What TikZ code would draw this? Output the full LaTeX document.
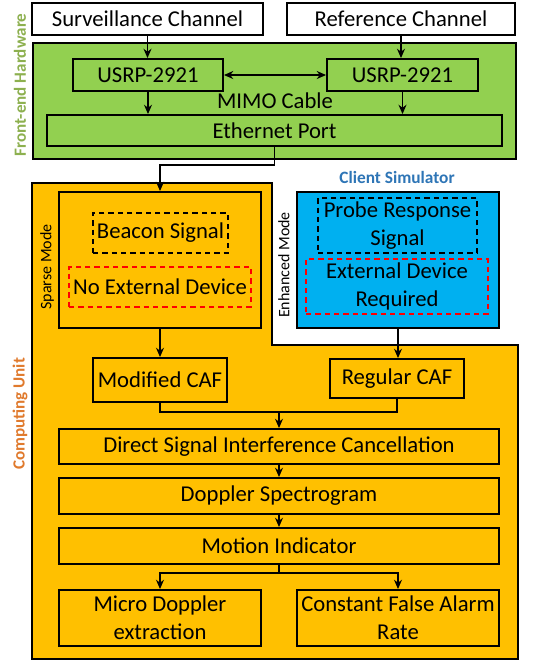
\documentclass[tikz,border=0pt]{standalone}
\usepackage{fontspec}
\setmainfont{Carlito}
\usepackage{tikz}
\usetikzlibrary{arrows.meta}

\definecolor{hwgreen}{RGB}{146,208,80}
\definecolor{hwtext}{RGB}{141,176,79}
\definecolor{cuorange}{RGB}{255,192,0}
\definecolor{cutext}{RGB}{224,122,45}
\definecolor{simblue}{RGB}{0,176,240}
\definecolor{simtext}{RGB}{46,117,182}
\newcommand{\px}{0.75pt}

\tikzset{
    box/.style={draw, line width=1.4pt, inner sep=0pt, align=center, font=\fontsize{17}{21}\selectfont},
    dashbox/.style={box, dash pattern=on 4pt off 3pt},
    flow/.style={line width=1.4pt, -{Stealth[length=7pt,width=6pt]}},
    side/.style={rotate=90, font=\fontsize{12.8}{15}\selectfont\bfseries},
}

\begin{document}
\begin{tikzpicture}[x=\px, y=-\px]
            \useasboundingbox (0,0) rectangle (541,662);

            % Define the input channels
            \node[box, fill=white, minimum width=231*\px, minimum height=32*\px] (surv) at (147.5,19) {Surveillance Channel};
            \node[box, fill=white, minimum width=228*\px, minimum height=32*\px] (ref) at (401,19) {Reference Channel};

            % Define the front-end hardware
            \node[box, fill=hwgreen, minimum width=483*\px, minimum height=116*\px] (front) at (274.5,101) {};
            \node[box, minimum width=150*\px, minimum height=32*\px] (usrpL) at (148,75) {USRP-2921};
            \node[box, minimum width=151*\px, minimum height=32*\px] (usrpR) at (402.5,75) {USRP-2921};
            \node[font=\fontsize{17}{21}\selectfont] (mimo) at (275,101) {MIMO Cable};
            \node[box, minimum width=455*\px, minimum height=31*\px] (ether) at (274.5,130.5) {Ethernet Port};
            \node[side, text=hwtext] (hwlabel) at (20,85) {Front-end Hardware};

            % Define the computing unit
            \draw[fill=cuorange, line width=1.4pt] (32,183) -- (272,183) -- (272,345) -- (518,345) -- (518,659) -- (32,659) -- cycle;
            \node[side, text=cutext] (culabel) at (20,414) {Computing Unit};

            % Define the two modes
            \node[box, minimum width=202*\px, minimum height=136*\px] (sparse) at (160,260) {};
            \node[dashbox, minimum width=135*\px, minimum height=40*\px] (beacon) at (160.5,233) {Beacon Signal};
            \node[dashbox, draw=red, minimum width=182*\px, minimum height=40*\px] (noext) at (160,287) {No External Device};
            \node[rotate=90, font=\fontsize{12}{14}\selectfont] (sparselabel) at (47,267) {Sparse Mode};

            \node[box, fill=simblue, minimum width=202*\px, minimum height=136*\px] (client) at (398,260) {};
            \node[dashbox, minimum width=159*\px, minimum height=55*\px] (probe) at (397.5,225.5) {Probe Response\\Signal};
            \node[dashbox, draw=red, minimum width=182*\px, minimum height=55*\px] (extreq) at (397,286.5) {External Device\\Required};
            \node[rotate=90, font=\fontsize{12}{14}\selectfont] (enhlabel) at (284,265) {Enhanced Mode};
            \node[font=\fontsize{13}{15}\selectfont\bfseries, text=simtext] (simlabel) at (397,177) {Client Simulator};

            % Define the processing chain
            \node[box, minimum width=134*\px, minimum height=44*\px] (modcaf) at (160,380) {Modified CAF};
            \node[box, minimum width=134*\px, minimum height=39*\px] (regcaf) at (397,378.5) {Regular CAF};
            \node[box, minimum width=440*\px, minimum height=35*\px] (dsic) at (279,446.5) {Direct Signal Interference Cancellation};
            \node[box, minimum width=440*\px, minimum height=36*\px] (dopp) at (279,496) {Doppler Spectrogram};
            \node[box, minimum width=440*\px, minimum height=36*\px] (motion) at (279,546) {Motion Indicator};
            \node[box, minimum width=202*\px, minimum height=56*\px] (micro) at (160,618) {Micro Doppler\\extraction};
            \node[box, minimum width=202*\px, minimum height=56*\px] (cfar) at (398,618) {Constant False Alarm\\Rate};
            \coordinate (merge) at (279,412);
            \coordinate (split) at (279,573);

            % Connect the hardware
            \draw[flow] (surv.south) -- (surv.south |- usrpL.north);
            \draw[flow] (ref.south) -- (ref.south |- usrpR.north);
            \draw[line width=1.4pt, {Stealth[length=7pt,width=6pt]}-{Stealth[length=7pt,width=6pt]}] (usrpL.east) -- (usrpR.west);
            \draw[flow] (usrpL.south) -- (usrpL.south |- ether.north);
            \draw[flow] (usrpR.south) -- (usrpR.south |- ether.north);
            \draw[flow] (ether.south) -- ++(0,18) -| (sparse.north);

            % Connect the computing unit
            \draw[flow] (sparse.south) -- (modcaf.north);
            \draw[flow] (client.south) -- (client.south |- regcaf.north);
            \draw[line width=1.4pt] (modcaf.south) |- (merge) -| (regcaf.south);
            \draw[flow] (merge) -- (dsic.north);
            \draw[flow] (dsic.south) -- (dopp.north);
            \draw[flow] (dopp.south) -- (motion.north);
            \draw[line width=1.4pt] (motion.south) -- (split);
            \draw[flow] (split) -| (micro.north);
            \draw[flow] (split) -| (cfar.north);

        \end{tikzpicture}
\end{document}
